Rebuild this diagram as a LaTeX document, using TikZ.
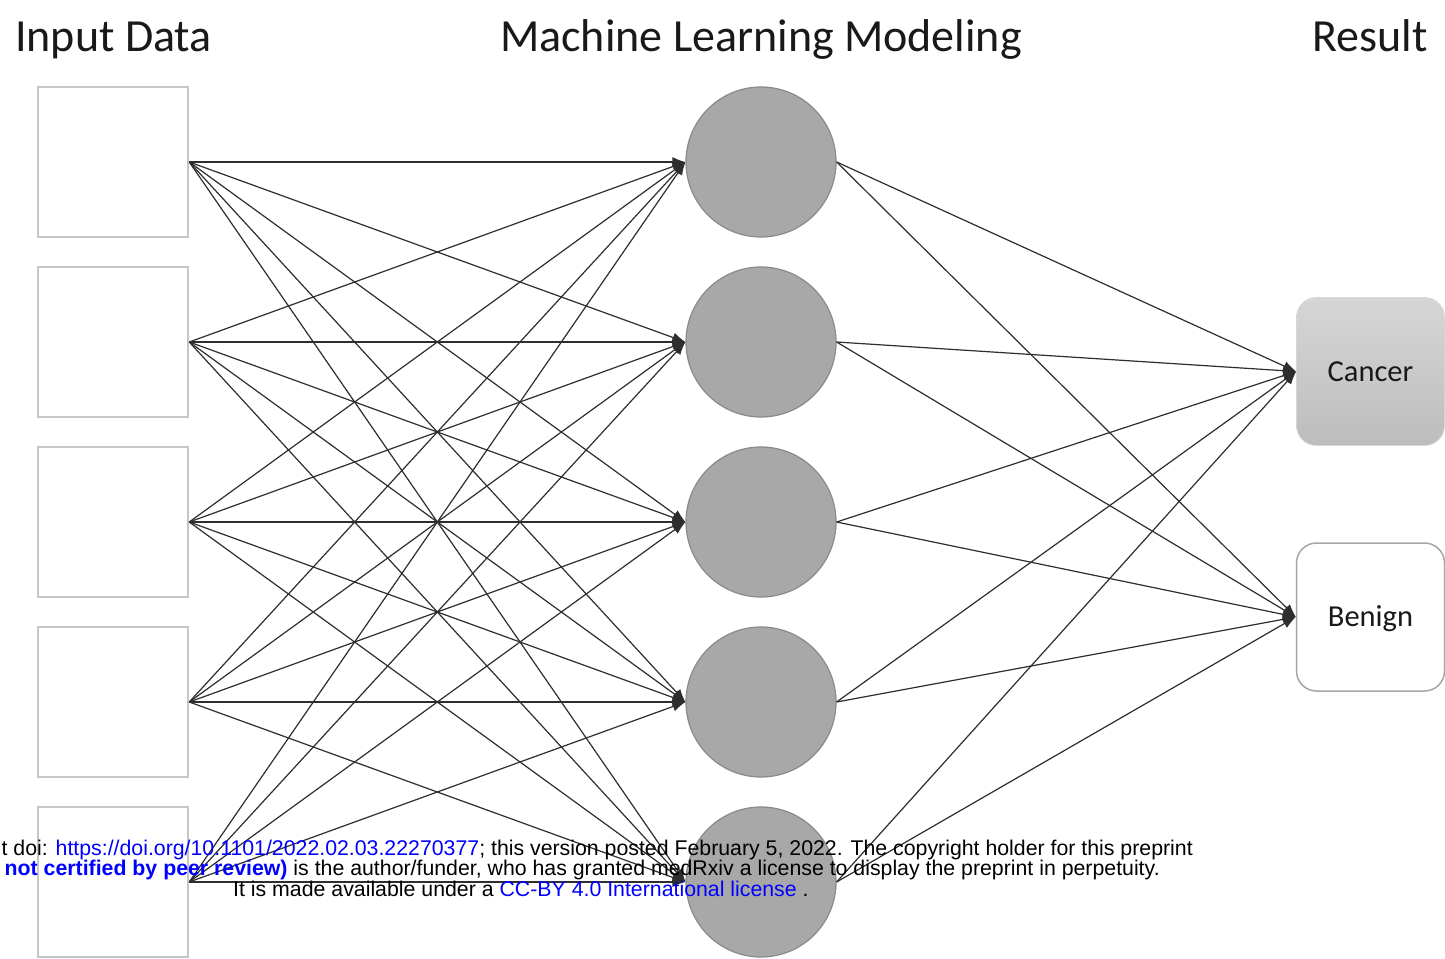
\documentclass[tikz,border=0pt]{standalone}
\usepackage{fontspec}
\setmainfont{Carlito}
\newfontfamily\arialfont{Liberation Sans}
\usetikzlibrary{arrows.meta}
\definecolor{boxline}{HTML}{C6C6C6}
\definecolor{circfill}{HTML}{A8A8A8}
\definecolor{circline}{HTML}{8A8A8A}
\definecolor{connline}{HTML}{2E2E2E}
\definecolor{linkblue}{HTML}{0000FF}
\tikzset{
  inbox/.style={draw=boxline, line width=2.5pt, fill=white, minimum width=150pt, minimum height=150pt, inner sep=0pt},
  hidden/.style={circle, draw=circline, line width=1.2pt, fill=circfill, minimum size=150pt, inner sep=0pt},
  resbox/.style={rounded corners=20pt, minimum width=148pt, minimum height=148pt, inner sep=0pt,
     font=\fontsize{30.5}{34}\selectfont, text=black!90, text height=19.5pt, text depth=0pt},
  conn/.style={draw=connline, line width=1.2pt, -{Latex[length=13pt,width=10pt]}},
  title/.style={font=\fontsize{46}{52}\selectfont, text=black!90, inner sep=0pt},
  wmark/.style={font=\arialfont\fontsize{21.3}{25}\selectfont, inner sep=0pt}
}
\begin{document}
\begin{tikzpicture}[x=1pt,y=-1pt]
\useasboundingbox (0,0) rectangle (1445,958);
\fill[white] (0,0) rectangle (1445,958);

\node[title, anchor=base west] (t1) at (15,52) {Input Data};
\node[title, anchor=base] (t2) at (761,52) {Machine Learning Modeling};
\node[title, anchor=base east] (t3) at (1428,52) {Result};

\foreach \i/\y in {1/162,2/342,3/522,4/702,5/882} {
  \node[inbox] (b\i) at (113,\y) {};
  \node[hidden] (c\i) at (761,\y) {};
}

\node[resbox, draw=boxline!70, line width=0.8pt, top color=black!16, bottom color=black!26] (cancer) at (1370.5,371.5) {Cancer};
\node[resbox, draw=black!35, line width=1.5pt, fill=white] (benign) at (1370.5,617) {Benign};

\foreach \i in {1,...,5} {
  \foreach \j in {1,...,5} {
    \draw[conn] (b\i.east) -- (c\j.west);
  }
  \draw[conn] (c\i.east) -- (cancer.west);
  \draw[conn] (c\i.east) -- (benign.west);
}

\node[wmark, anchor=base east] (w1) at (1193,855) {t doi: \textcolor{linkblue}{https://doi.org/10.1101/2022.02.03.22270377}; this version posted February 5, 2022. The copyright holder for this preprint};
\node[wmark, anchor=base east] (w2) at (1160,875) {\textcolor{linkblue}{\bfseries not certified by peer review)} is the author/funder, who has granted medRxiv a license to display the preprint in perpetuity.};
\node[wmark, anchor=base west] (w3) at (233,896) {It is made available under a \textcolor{linkblue}{CC-BY 4.0 International license} .};
\end{tikzpicture}
\end{document}
